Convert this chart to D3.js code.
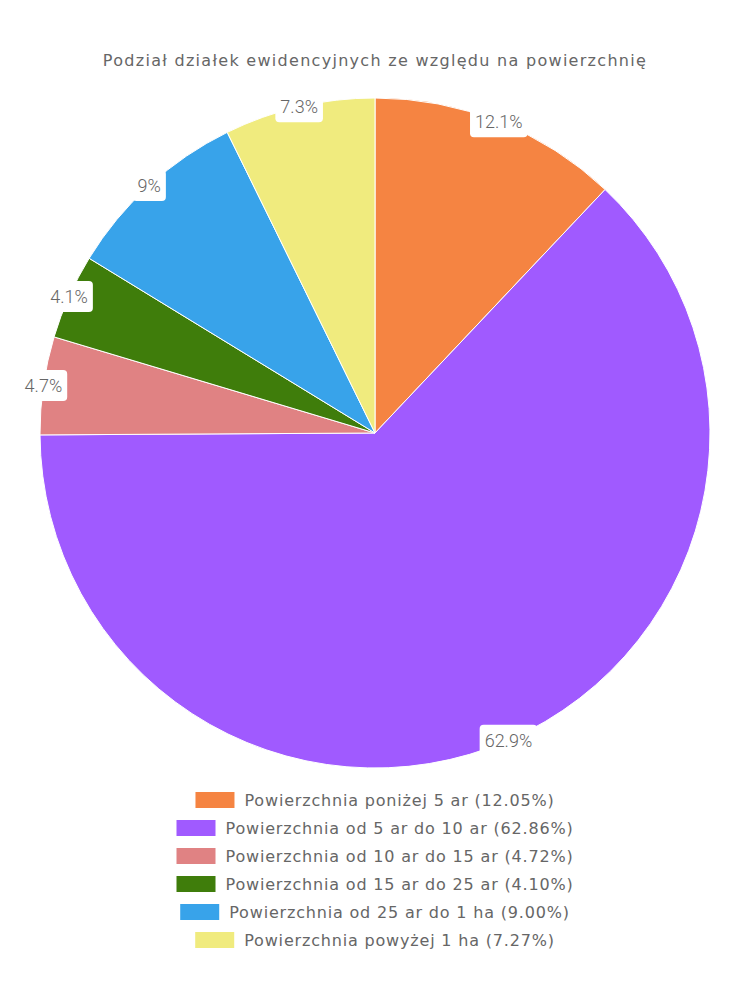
<!DOCTYPE html>
<html>
<head>
<meta charset="utf-8">
<script src="https://cdn.jsdelivr.net/npm/d3@7"></script>
<style>
    body { margin: 0; background: #fff; }
    text { font-family: "DejaVu Sans", sans-serif; fill: #666; }
    .lbl text { font-family: Roboto, "DejaVu Sans", sans-serif; font-weight: 300; }
</style>
</head>
<body>
<div id="chart"></div>
<script>
    var title = "Podział działek ewidencyjnych ze względu na powierzchnię";
    var categories = [
        "Powierzchnia poniżej 5 ar",
        "Powierzchnia od 5 ar do 10 ar",
        "Powierzchnia od 10 ar do 15 ar",
        "Powierzchnia od 15 ar do 25 ar",
        "Powierzchnia od 25 ar do 1 ha",
        "Powierzchnia powyżej 1 ha"
    ];
    var values = [12.05, 62.86, 4.72, 4.10, 9.00, 7.27];
    var colors = ["#f58442", "#a05aff", "#e08283", "#3f7d0b", "#38a3ea", "#f0eb7e"];

    var width = 750, height = 1000;
    var cx = 375, cy = 433, radius = 335;

    var svg = d3.select("#chart").append("svg")
        .attr("width", width)
        .attr("height", height);

    svg.append("text")
        .attr("x", width / 2)
        .attr("y", 60)
        .attr("text-anchor", "middle")
        .attr("dominant-baseline", "central")
        .attr("font-size", 16)
        .attr("letter-spacing", 1.29)
        .text(title);

    var pie = d3.pie().sort(null).value(function(d) { return d; });
    var arcs = pie(values);
    var arc = d3.arc().innerRadius(0).outerRadius(radius);
    var labelArc = d3.arc().innerRadius(radius).outerRadius(radius);

    var g = svg.append("g").attr("transform", "translate(" + cx + "," + cy + ")");

    g.selectAll("path.slice")
        .data(arcs)
        .enter().append("path")
        .attr("class", "slice")
        .attr("d", arc)
        .attr("fill", function(d, i) { return colors[i]; })
        .attr("stroke", "#fff")
        .attr("stroke-width", 1);

    // labels with white rounded boxes at the outer edge
    var labels = g.selectAll("g.lbl")
        .data(arcs)
        .enter().append("g")
        .attr("class", "lbl")
        .attr("transform", function(d) {
            var c = labelArc.centroid(d);
            return "translate(" + c[0] + "," + c[1] + ")";
        });

    labels.append("text")
        .attr("text-anchor", "middle")
        .attr("dominant-baseline", "central")
        .attr("font-size", 18)
        .text(function(d) {
            var v = Math.round(d.value * 10) / 10;
            return v + "%";
        });

    labels.insert("rect", "text")
        .each(function() {
            var t = d3.select(this.parentNode).select("text").node();
            var w = t.getComputedTextLength();
            d3.select(this)
                .attr("x", -w / 2 - 5)
                .attr("y", -15.5)
                .attr("width", w + 10)
                .attr("height", 31)
                .attr("rx", 4)
                .attr("fill", "#fff");
        });

    // legend
    var legend = svg.append("g");
    var rowH = 28, legendTop = 800, boxW = 39, boxH = 16, gap = 10;

    categories.forEach(function(name, i) {
        var row = legend.append("g");
        var txt = row.append("text")
            .attr("dominant-baseline", "central")
            .attr("font-size", 16)
            .attr("letter-spacing", 0.82)
            .attr("y", legendTop + i * rowH)
            .text(name + " (" + values[i].toFixed(2) + "%)");
        var tw = txt.node().getComputedTextLength();
        var total = boxW + gap + tw;
        var x0 = (width - total) / 2;
        row.append("rect")
            .attr("x", x0)
            .attr("y", legendTop + i * rowH - boxH / 2)
            .attr("width", boxW)
            .attr("height", boxH)
            .attr("fill", colors[i]);
        txt.attr("x", x0 + boxW + gap);
    });
</script>
</body>
</html>
